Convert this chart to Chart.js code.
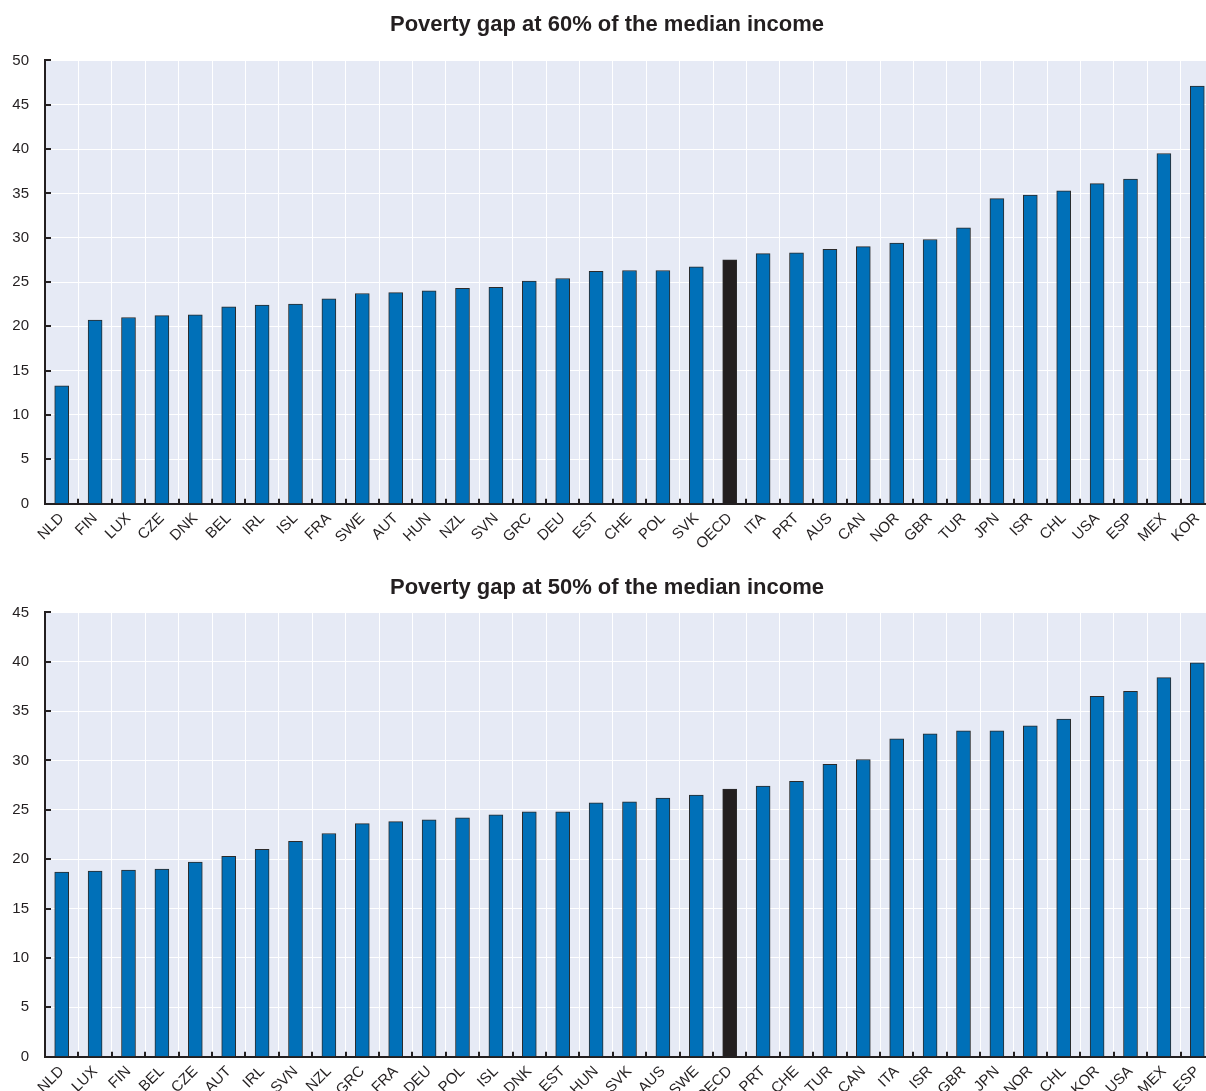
<!DOCTYPE html>
<html>
<head>
<meta charset="utf-8">
<script src="https://cdn.jsdelivr.net/npm/chart.js@4.4.1/dist/chart.umd.min.js"></script>
<style>
  html, body { margin: 0; padding: 0; background: #fff; overflow: hidden; }
  .box { position: relative; width: 1214px; }
  #box-60 { height: 563px; }
  #box-50 { height: 553px; }
</style>
</head>
<body>
<div class="box" id="box-60"><canvas id="canvas-60"></canvas></div>
<div class="box" id="box-50"><canvas id="canvas-50"></canvas></div>
<script>
  'use strict';

  // poverty gap at 60% of median income
  var countries60 = ['NLD', 'FIN', 'LUX', 'CZE', 'DNK', 'BEL', 'IRL', 'ISL', 'FRA', 'SWE', 'AUT', 'HUN', 'NZL', 'SVN', 'GRC', 'DEU', 'EST', 'CHE', 'POL', 'SVK', 'OECD', 'ITA', 'PRT', 'AUS', 'CAN', 'NOR', 'GBR', 'TUR', 'JPN', 'ISR', 'CHL', 'USA', 'ESP', 'MEX', 'KOR'];
  var gap60 = [13.3, 20.7, 21.0, 21.2, 21.3, 22.2, 22.4, 22.5, 23.1, 23.7, 23.8, 24.0, 24.3, 24.4, 25.1, 25.4, 26.2, 26.3, 26.3, 26.7, 27.5, 28.2, 28.3, 28.7, 29.0, 29.4, 29.8, 31.1, 34.4, 34.8, 35.3, 36.1, 36.6, 39.5, 47.1];

  // poverty gap at 50% of median income
  var countries50 = ['NLD', 'LUX', 'FIN', 'BEL', 'CZE', 'AUT', 'IRL', 'SVN', 'NZL', 'GRC', 'FRA', 'DEU', 'POL', 'ISL', 'DNK', 'EST', 'HUN', 'SVK', 'AUS', 'SWE', 'OECD', 'PRT', 'CHE', 'TUR', 'CAN', 'ITA', 'ISR', 'GBR', 'JPN', 'NOR', 'CHL', 'KOR', 'USA', 'MEX', 'ESP'];
  var gap50 = [18.7, 18.8, 18.9, 19.0, 19.7, 20.3, 21.0, 21.8, 22.6, 23.6, 23.8, 24.0, 24.2, 24.5, 24.8, 24.8, 25.7, 25.8, 26.2, 26.5, 27.1, 27.4, 27.9, 29.6, 30.1, 32.2, 32.7, 33.0, 33.0, 33.5, 34.2, 36.5, 37.0, 38.4, 39.9];

  var FONT = "'Liberation Sans', Arial, sans-serif";

  // plot background + small inward ticks
  var frame = {
    id: 'frame',
    beforeDraw: function (chart) {
      var a = chart.chartArea, c = chart.ctx;
      c.save();
      c.fillStyle = '#e6eaf5';
      c.fillRect(a.left, a.top, a.right - a.left, a.bottom - a.top);
      c.restore();
    },
    afterDraw: function (chart) {
      var a = chart.chartArea, c = chart.ctx;
      var x = chart.scales.x, y = chart.scales.y;
      c.save();
      c.strokeStyle = '#231f20';
      c.lineWidth = 2;
      y.ticks.forEach(function (t) {
        var py = Math.round(y.getPixelForValue(t.value));
        c.beginPath(); c.moveTo(a.left, py); c.lineTo(a.left + 6, py); c.stroke();
      });
      for (var i = 1; i < x.ticks.length; i++) {
        var px = Math.round((x.getPixelForTick(i - 1) + x.getPixelForTick(i)) / 2);
        c.beginPath(); c.moveTo(px, a.bottom); c.lineTo(px, a.bottom - 5); c.stroke();
      }
      c.restore();
    }
  };

  function makeChart(id, title, labels, values, yMax, titlePad) {
    var colors = labels.map(function (l) { return l === 'OECD' ? '#231f20' : '#0070b8'; });
    return new Chart(document.getElementById(id), {
      type: 'bar',
      data: {
        labels: labels,
        datasets: [{
          data: values,
          backgroundColor: colors,
          borderColor: '#2b2b2b',
          borderWidth: 1,
          borderSkipped: 'bottom',
          barThickness: 14
        }]
      },
      options: {
        responsive: true,
        maintainAspectRatio: false,
        animation: false,
        layout: { padding: { top: titlePad.top, left: 0, right: 0, bottom: 4 } },
        plugins: {
          legend: { display: false },
          tooltip: { enabled: false },
          title: {
            display: true,
            text: title,
            color: '#231f20',
            font: { family: FONT, size: 22, weight: 'bold' },
            padding: { top: 0, bottom: titlePad.bottom }
          }
        },
        scales: {
          x: {
            grid: { color: '#ffffff', lineWidth: 1, drawTicks: false, offset: true },
            border: { color: '#231f20', width: 2 },
            ticks: {
              color: '#231f20',
              font: { family: FONT, size: 15 },
              maxRotation: 45,
              minRotation: 45,
              autoSkip: false,
              padding: 6
            },
            afterFit: function (s) { s.paddingLeft = 0; s.paddingRight = 0; }
          },
          y: {
            min: 0,
            max: yMax,
            grid: { color: '#ffffff', lineWidth: 1, drawTicks: false },
            border: { color: '#231f20', width: 2 },
            ticks: {
              stepSize: 5,
              color: '#231f20',
              font: { family: FONT, size: 15 },
              padding: 16
            },
            afterFit: function (s) { s.width = 45; }
          }
        }
      },
      plugins: [frame]
    });
  }

  makeChart('canvas-60', 'Poverty gap at 60% of the median income', countries60, gap60, 50,
    { top: 12, bottom: 22 });
  makeChart('canvas-50', 'Poverty gap at 50% of the median income', countries50, gap50, 45,
    { top: 12, bottom: 11 });
</script>
</body>
</html>
